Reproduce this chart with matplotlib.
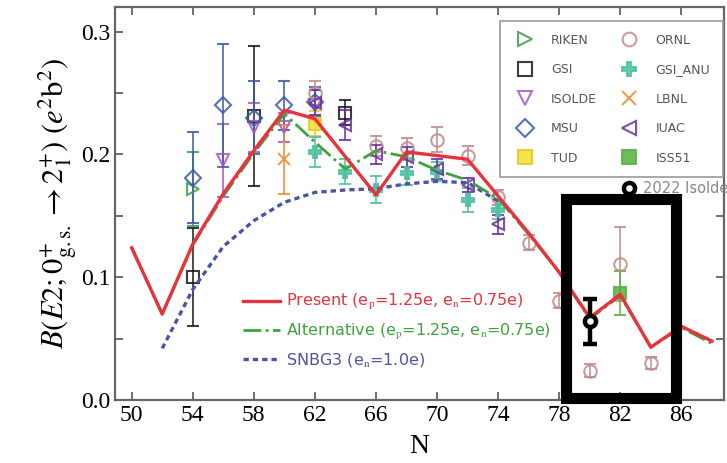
import matplotlib
matplotlib.use("Agg")
import matplotlib.pyplot as plt
from matplotlib.patches import Rectangle
from matplotlib.ticker import MultipleLocator

plt.rcParams["mathtext.fontset"] = "stix"

# shell-model curves, B(E2) in e^2 b^2 vs neutron number
N_calc = [50, 52, 54, 56, 58, 60, 62, 64, 66, 68, 70, 72, 74, 76, 78, 80, 82, 84, 86, 88]
present = [0.124, 0.070, 0.127, 0.168, 0.203, 0.236, 0.229, 0.198, 0.167, 0.202,
           0.199, 0.196, 0.166, 0.136, 0.104, 0.067, 0.086, 0.043, 0.060, 0.048]
alternative = [0.124, 0.070, 0.126, 0.166, 0.201, 0.233, 0.210, 0.188, 0.203, 0.198,
               0.187, 0.179, 0.164, 0.135, 0.104, 0.066, 0.085, 0.043, 0.059, 0.046]
N_snbg3 = [52, 54, 56, 58, 60, 62, 64, 66, 68, 70, 72, 74]
snbg3 = [0.042, 0.090, 0.125, 0.146, 0.161, 0.169, 0.171, 0.172, 0.176, 0.178, 0.177, 0.162]

# measurements: N, value, error
riken_N, riken_B, riken_err = [54], [0.172], [0.030]
gsi_N, gsi_B, gsi_err = [54, 58, 64], [0.100, 0.231, 0.234], [0.040, 0.057, 0.010]
isolde_N = [56, 58, 60, 62]
isolde_B = [0.195, 0.222, 0.222, 0.240]
isolde_err = [0.030, 0.020, 0.012, 0.012]
msu_N = [54, 56, 58, 60, 62]
msu_B = [0.181, 0.240, 0.230, 0.240, 0.243]
msu_err = [0.037, 0.050, 0.030, 0.020, 0.012]
tud_N, tud_B, tud_err = [62], [0.225], [0.010]
ornl_N = [62, 66, 68, 70, 72, 74, 76, 78, 80, 82, 84]
ornl_B = [0.250, 0.207, 0.205, 0.212, 0.199, 0.165, 0.128, 0.081, 0.024, 0.111, 0.030]
ornl_err = [0.010, 0.008, 0.008, 0.010, 0.008, 0.006, 0.006, 0.006, 0.005, 0.030, 0.005]
anu_N = [62, 64, 66, 68, 70, 72, 74]
anu_B = [0.202, 0.186, 0.171, 0.185, 0.186, 0.163, 0.155]
anu_err = [0.012, 0.010, 0.011, 0.010, 0.008, 0.010, 0.008]
lbnl_N, lbnl_B, lbnl_err = [60], [0.196], [0.028]
iuac_N = [62, 64, 66, 68, 70, 72, 74]
iuac_B = [0.242, 0.224, 0.200, 0.198, 0.188, 0.175, 0.143]
iuac_err = [0.010, 0.012, 0.008, 0.008, 0.008, 0.006, 0.008]
iss_N, iss_B, iss_err = [82], [0.087], [0.018]
new_N, new_B, new_err = [80], [0.064], [0.018]

fig = plt.figure(figsize=(7.27, 4.63), dpi=100)
ax = fig.add_axes([0.158, 0.136, 0.838, 0.849])

ax.plot(N_calc, present, color="#e8323c", lw=2.4, zorder=4,
        label=r"Present (e$_{\rm p}$=1.25e, e$_{\rm n}$=0.75e)")
ax.plot(N_calc, alternative, color="#3fa33f", lw=2.0, ls="-.", zorder=3.5,
        label=r"Alternative (e$_{\rm p}$=1.25e, e$_{\rm n}$=0.75e)")
ax.plot(N_snbg3, snbg3, color="#4a55a5", lw=2.4, ls=(0, (1.6, 1.2)), zorder=3.4,
        label=r"SNBG3 (e$_{\rm n}$=1.0e)")


def points(N, B, err, marker, color, label, face="none", ms=9):
    cont = ax.errorbar(N, B, yerr=err, fmt=marker, color=color, mfc=face, mec=color,
                       ms=ms, mew=1.5, elinewidth=1.3, capsize=4.5, capthick=1.3,
                       alpha=0.85, zorder=3)
    cont[0].set_label(label)
    return cont[0]


handles = [
    points(riken_N, riken_B, riken_err, ">", "#3c9a4c", "RIKEN"),
    points(gsi_N, gsi_B, gsi_err, "s", "#1a1a1a", "GSI"),
    points(isolde_N, isolde_B, isolde_err, "v", "#a855c0", "ISOLDE"),
    points(msu_N, msu_B, msu_err, "D", "#3a5aa8", "MSU", ms=8),
    points(tud_N, tud_B, tud_err, "s", "#e8c820", "TUD", face="#f5e030"),
    points(ornl_N, ornl_B, ornl_err, "o", "#c08c8c", "ORNL"),
    points(anu_N, anu_B, anu_err, "P", "#4cc0a0", "GSI_ANU", face="#4cc0a0"),
    points(lbnl_N, lbnl_B, lbnl_err, "x", "#f08a30", "LBNL"),
    points(iuac_N, iuac_B, iuac_err, "<", "#6a2fa0", "IUAC"),
    points(iss_N, iss_B, iss_err, "s", "#58b040", "ISS51", face="#58b040"),
]

new = ax.errorbar(new_N, new_B, yerr=new_err, fmt="o", color="black", mfc="white",
                  mec="black", ms=8, mew=3.2, elinewidth=3.2, capsize=5, capthick=3,
                  zorder=6)
new[0].set_label("2022 Isolde")

# highlight box around the new N=80-84 region
ax.add_patch(Rectangle((78.45, 0.002), 7.2, 0.1615, fill=False, ec="black", lw=8,
                       clip_on=False, zorder=7))

ax.set_xlim(48.9, 88.8)
ax.set_ylim(0, 0.32)
ax.set_xticks(range(50, 87, 4))
ax.set_yticks([0.0, 0.1, 0.2, 0.3])
ax.yaxis.set_minor_locator(MultipleLocator(0.05))
ax.tick_params(which="both", direction="in", top=True, right=True, color="#555555")
ax.tick_params(which="major", length=6, width=1.2, labelsize=17)
ax.tick_params(which="minor", length=6, width=1.2)
for lab in ax.get_xticklabels() + ax.get_yticklabels():
    lab.set_family("Liberation Serif")
for sp in ax.spines.values():
    sp.set_color("#666666")
    sp.set_linewidth(1.6)

ax.set_xlabel("N", family="Liberation Serif", fontsize=20, labelpad=6)
ax.set_ylabel(r"$B(E2;0^{+}_{\rm g.s.}\rightarrow 2^{+}_{1})\ (e^{2}{\rm b}^{2})$",
              fontsize=22, labelpad=1)

data_leg = ax.legend(handles=handles, ncol=2, loc="upper right",
                     bbox_to_anchor=(0.998, 0.964), borderaxespad=0, fontsize=9,
                     labelcolor="#555555", frameon=True, fancybox=False,
                     edgecolor="#999999", framealpha=1, handlelength=2.0,
                     handletextpad=1.1, labelspacing=1.32, columnspacing=1.6,
                     borderpad=1.0, markerscale=1.1)
data_leg.get_frame().set_linewidth(1.2)
ax.add_artist(data_leg)

line_leg = ax.legend(handles=ax.lines[:3], loc="center left",
                     bbox_to_anchor=(0.21, 0.176), borderaxespad=0, borderpad=0,
                     frameon=False, labelcolor="linecolor",
                     handlelength=2.3, handletextpad=0.4, labelspacing=0.6,
                     prop={"family": "DejaVu Sans", "size": 11.5})
ax.add_artist(line_leg)

ax.legend(handles=[new[0]], loc="center left", bbox_to_anchor=(0.835, 0.539),
          borderaxespad=0, borderpad=0, frameon=False, fontsize=10.5,
          labelcolor="#888888", handlelength=0.8, handletextpad=0.5)

fig.savefig("out.png", dpi=100)
